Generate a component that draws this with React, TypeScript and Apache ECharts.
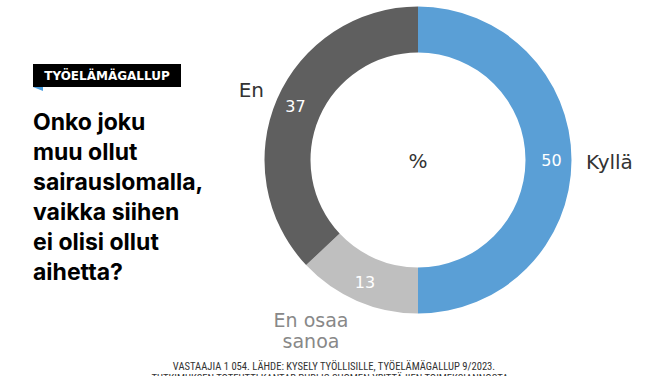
import React, { useEffect, useRef } from "react";
import * as echarts from "echarts";

const categories = ["Kyllä", "En osaa sanoa", "En"];
const values = [50, 13, 37];
const colors = ["#5a9fd6", "#bfbfbf", "#5f5f5f"];
const nameLabels = ["Kyllä", "En osaa\nsanoa", "En"];
const tagText = "TYÖELÄMÄGALLUP";
const titleLines = [
  "Onko joku",
  "muu ollut",
  "sairauslomalla,",
  "vaikka siihen",
  "ei olisi ollut",
  "aihetta?",
];
const footLines = [
  "VASTAAJIA 1 054. LÄHDE: KYSELY TYÖLLISILLE, TYÖELÄMÄGALLUP 9/2023.",
  "TUTKIMUKSEN TOTEUTTI KANTAR PUBLIC SUOMEN YRITTÄJIEN TOIMEKSIANNOSTA",
];

export default function App() {
  const ref = useRef<HTMLDivElement>(null);
  useEffect(() => {
    const chart = echarts.init(ref.current!, null, { renderer: "svg" });
    const font = "'DejaVu Sans', sans-serif";
    const footFont = "10.6px 'Liberation Sans Narrow', 'Roboto Condensed', Roboto, sans-serif";
    chart.setOption({
      animation: false,
      backgroundColor: "#ffffff",
      graphic: [
        { type: "rect", shape: { x: 33, y: 64, width: 148, height: 23 }, style: { fill: "#000" } },
        { type: "polygon", shape: { points: [[33, 87], [43, 87], [43, 91]] }, style: { fill: "#4a9fe0" } },
        {
          type: "text",
          x: 107,
          y: 76,
          style: {
            text: tagText,
            fill: "#fff",
            font: "bold 12px 'DejaVu Sans', sans-serif",
            align: "center",
            verticalAlign: "middle",
          },
        },
        {
          type: "text",
          x: 33,
          y: 107,
          style: {
            text: titleLines.join("\n"),
            fill: "#000",
            font: "bold 23px Inter, sans-serif",
            lineHeight: 30,
            align: "left",
            verticalAlign: "top",
          },
        },
        {
          type: "text",
          x: 418,
          y: 161,
          style: { text: "%", fill: "#333", font: "20px " + font, align: "center", verticalAlign: "middle" },
        },
        {
          type: "text",
          x: 586,
          y: 162,
          style: { text: nameLabels[0], fill: "#333", font: "20px " + font, align: "left", verticalAlign: "middle" },
        },
        {
          type: "text",
          x: 264,
          y: 90,
          style: { text: nameLabels[2], fill: "#333", font: "20px " + font, align: "right", verticalAlign: "middle" },
        },
        {
          type: "text",
          x: 311,
          y: 330,
          style: {
            text: nameLabels[1],
            fill: "#888",
            font: "19px " + font,
            lineHeight: 21,
            align: "center",
            verticalAlign: "middle",
          },
        },
        {
          type: "text",
          x: 334,
          y: 366,
          style: { text: footLines[0], fill: "#333", font: footFont, align: "center", verticalAlign: "middle" },
        },
        {
          type: "text",
          x: 330,
          y: 378,
          style: { text: footLines[1], fill: "#333", font: footFont, align: "center", verticalAlign: "middle" },
        },
      ],
      series: [
        {
          type: "pie",
          center: [418, 160],
          radius: [107.5, 153.5],
          startAngle: 90,
          clockwise: true,
          silent: true,
          itemStyle: { borderWidth: 0 },
          label: {
            show: true,
            position: "inside",
            color: "#fff",
            fontSize: 16,
            fontFamily: "DejaVu Sans",
            formatter: (p: any) => String(p.value),
          },
          labelLine: { show: false },
          data: categories.map((c, i) => ({ name: c, value: values[i], itemStyle: { color: colors[i] } })),
        },
      ],
    });
    return () => chart.dispose();
  }, []);
  return <div ref={ref} style={{ position: "fixed", left: 0, top: 0, width: 668, height: 376 }} />;
}
